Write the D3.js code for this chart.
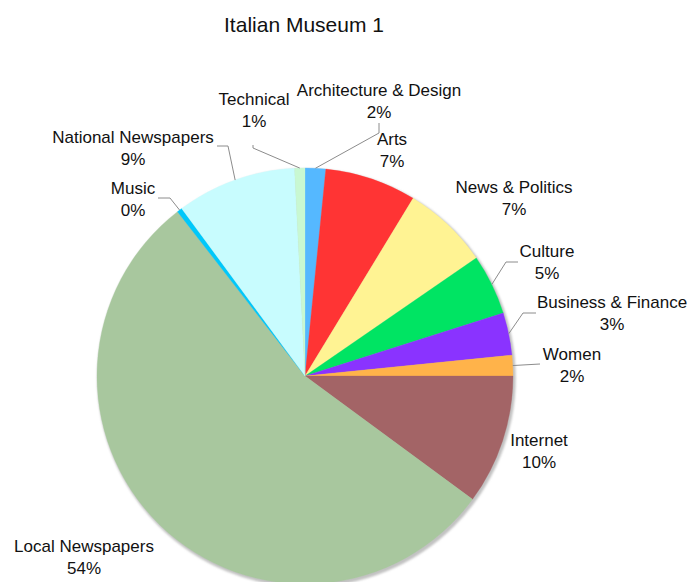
<!DOCTYPE html>
<html>
<head>
<meta charset="utf-8">
<script src="https://cdn.jsdelivr.net/npm/d3@7"></script>
<style>
  html, body { margin: 0; padding: 0; background: #fff; }
  svg { display: block; font-family: "Liberation Sans", Arial, Helvetica, sans-serif; }
</style>
</head>
<body>
<svg id="chart" width="687" height="582"></svg>
<script>
// Share of content by category (percent)
const categories = [
  "Architecture & Design", "Arts", "News & Politics", "Culture",
  "Business & Finance", "Women", "Internet", "Local Newspapers",
  "Music", "National Newspapers", "Technical"
];
const shares = [1.6, 7.1, 6.7, 4.7, 3.3, 1.6, 10.1, 54.4, 0.4, 9.3, 0.8];
const colors = [
  "#55b8ff", "#ff3434", "#fff393", "#00e463",
  "#8a33ff", "#ffb34a", "#a36466", "#a8c79e",
  "#00c8fa", "#c8fcfe", "#c8f8d2"
];
const title = "Italian Museum 1";

// Label layout: centre x, baseline of the name line, optional leader path start
const labelLayout = {
  "Architecture & Design": { x: 379, y: 96, leader: [[379, 123], [379, 133]] },
  "Arts":                  { x: 392, y: 145 },
  "News & Politics":       { x: 514, y: 193 },
  "Culture":               { x: 547, y: 257, leader: [[518, 262], [506, 262]] },
  "Business & Finance":    { x: 612, y: 308, leader: [[536, 313], [523, 313]] },
  "Women":                 { x: 572, y: 360, leader: [[540, 364]] },
  "Internet":              { x: 539, y: 446 },
  "Local Newspapers":      { x: 84,  y: 552 },
  "Music":                 { x: 133, y: 194, leader: [[158, 198], [170, 198]] },
  "National Newspapers":   { x: 133, y: 143, leader: [[217, 146], [228, 146]] },
  "Technical":             { x: 254, y: 105, leader: [[253, 145], [253, 148]] }
};

const svg = d3.select("#chart");
const cx = 305, cy = 376, radius = 208;

svg.append("text")
  .attr("x", 304).attr("y", 32)
  .attr("text-anchor", "middle")
  .attr("font-size", 21)
  .attr("fill", "#111")
  .text(title);

const defs = svg.append("defs");
defs.append("filter").attr("id", "soft")
  .attr("x", "-10%").attr("y", "-10%").attr("width", "120%").attr("height", "120%")
  .append("feGaussianBlur").attr("stdDeviation", 0.9);

const data = categories.map((c, i) => ({ name: c, value: shares[i], color: colors[i] }));
const total = d3.sum(shares);

const pie = d3.pie().sort(null).value(d => d.value).startAngle(0).endAngle(2 * Math.PI);
const arc = d3.arc().innerRadius(0).outerRadius(radius);
const arcs = pie(data);

const g = svg.append("g").attr("transform", `translate(${cx},${cy})`);

// soft drop shadow under the disc
g.append("circle")
  .attr("cx", 1.5).attr("cy", 2)
  .attr("r", radius + 1.2)
  .attr("fill", "#c2c2c2")
  .attr("filter", "url(#soft)");

g.selectAll("path.slice")
  .data(arcs)
  .join("path")
  .attr("class", "slice")
  .attr("d", arc)
  .attr("fill", d => d.data.color)
  .attr("stroke", d => d.data.color)
  .attr("stroke-width", 0.3);

// leader lines from the rim at each slice's mid angle
const line = d3.line();
arcs.forEach(d => {
  const lay = labelLayout[d.data.name];
  if (!lay.leader) return;
  const mid = (d.startAngle + d.endAngle) / 2;
  const edge = [cx + radius * Math.sin(mid), cy - radius * Math.cos(mid)];
  svg.append("path")
    .attr("d", line([...lay.leader, edge]))
    .attr("fill", "none")
    .attr("stroke", "#8c8c8c")
    .attr("stroke-width", 1);
});

// category name and rounded percentage
const labels = svg.append("g")
  .attr("font-size", 17)
  .attr("fill", "#111")
  .attr("text-anchor", "middle");

arcs.forEach(d => {
  const lay = labelLayout[d.data.name];
  const pct = Math.round(d.data.value / total * 100);
  labels.append("text").attr("x", lay.x).attr("y", lay.y).text(d.data.name);
  labels.append("text").attr("x", lay.x).attr("y", lay.y + 22).text(pct + "%");
});
</script>
</body>
</html>
